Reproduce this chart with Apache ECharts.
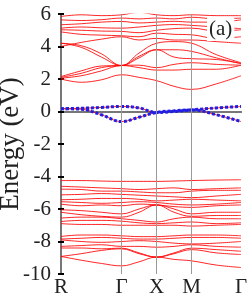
<!DOCTYPE html>
<html>
<head>
<meta charset="utf-8">
<script src="https://cdn.jsdelivr.net/npm/echarts@6/dist/echarts.min.js"></script>
<style>html,body{margin:0;padding:0;background:#fff}#c{width:249px;height:301px}</style>
</head>
<body>
<div id="c"></div>
<script>
// k-path positions (R, 1/3, 2/3, Γ, mid, X, mid, M, mid, Γ)
const kPoints = [0, 0.577, 1.155, 1.732, 2.232, 2.732, 3.232, 3.732, 4.439, 5.146];
const kTickValues = [0, 1.732, 2.732, 3.732, 5.146];
const kTickLabels = ['R', 'Γ', 'X', 'M', 'Γ'];
const yTicks = [6, 4, 2, 0, -2, -4, -6, -8, -10];

const conductionBands = [
  [2.0, 1.8, 1.95, 2.26, 2.1, 1.9, 1.55, 1.36, 1.7, 2.2],
  [2.05, 2.2, 2.5, 2.83, 2.7, 2.55, 2.55, 2.6, 2.6, 2.85],
  [2.1, 2.35, 2.7, 2.83, 2.85, 2.7, 2.9, 3.0, 2.9, 2.85],
  [2.15, 2.5, 2.8, 2.83, 3.3, 3.8, 3.35, 3.25, 3.2, 2.95],
  [4.2, 3.95, 3.35, 2.83, 3.4, 3.8, 3.8, 3.7, 3.3, 2.95],
  [4.2, 4.05, 3.55, 2.83, 3.6, 4.2, 4.3, 4.2, 3.5, 3.0],
  [4.0, 4.25, 4.45, 4.6, 4.4, 4.5, 4.4, 4.4, 4.3, 4.2],
  [4.9, 4.75, 4.7, 4.66, 4.6, 4.82, 4.75, 4.72, 4.5, 4.6],
  [5.03, 5.0, 4.95, 4.93, 4.85, 5.0, 5.1, 5.13, 4.95, 5.03],
  [5.13, 5.2, 5.15, 5.13, 5.2, 5.3, 5.35, 5.3, 5.2, 5.1],
  [5.34, 5.4, 5.5, 5.54, 5.45, 5.5, 5.55, 5.5, 5.5, 5.64],
  [5.64, 5.6, 5.65, 5.75, 5.7, 5.75, 5.7, 5.8, 5.7, 5.75],
  [5.85, 5.95, 5.9, 5.95, 6.1, 5.95, 5.9, 5.95, 5.9, 5.9]
];

const flatBands = [
  [0.17, 0.2, 0.25, 0.31, 0.22, -0.06, 0.0, 0.1, 0.22, 0.31],
  [0.17, 0.14, -0.2, -0.62, -0.35, -0.06, 0.04, 0.1, -0.2, -0.62]
];

const valenceBands = [
  [-4.25, -4.25, -4.28, -4.3, -4.3, -4.3, -4.28, -4.25, -4.22, -4.2],
  [-4.6, -4.65, -4.7, -4.75, -4.8, -4.75, -4.7, -4.8, -4.75, -4.7],
  [-4.78, -4.8, -4.9, -4.9, -4.95, -5.0, -5.0, -4.9, -4.85, -4.85],
  [-5.13, -5.1, -5.05, -5.1, -5.15, -5.2, -5.25, -5.3, -5.2, -5.1],
  [-5.43, -5.4, -5.35, -5.35, -5.4, -5.5, -5.45, -5.4, -5.45, -5.5],
  [-5.55, -5.6, -5.65, -5.6, -5.55, -5.6, -5.7, -5.75, -5.7, -5.6],
  [-5.7, -5.8, -5.75, -5.8, -5.7, -5.75, -5.85, -5.9, -5.8, -5.75],
  [-6.05, -6.1, -6.2, -6.3, -6.0, -5.75, -6.0, -6.3, -6.2, -6.2],
  [-6.2, -6.35, -6.45, -6.5, -6.2, -5.75, -6.2, -6.45, -6.4, -6.4],
  [-6.56, -6.5, -6.5, -6.6, -6.7, -6.8, -6.6, -6.5, -6.6, -6.6],
  [-6.77, -6.7, -6.7, -6.75, -6.85, -6.9, -6.85, -6.8, -6.9, -6.85],
  [-6.9, -6.95, -6.95, -7.0, -7.0, -7.0, -7.0, -7.05, -7.0, -6.95],
  [-7.69, -7.6, -7.6, -7.65, -7.7, -7.7, -7.65, -7.6, -7.6, -7.65],
  [-7.85, -7.8, -7.75, -7.8, -7.85, -7.85, -7.8, -7.75, -7.75, -7.8],
  [-7.9, -8.0, -8.05, -8.0, -7.95, -8.0, -8.1, -8.15, -8.1, -8.0],
  [-8.3, -8.25, -8.2, -8.3, -8.3, -8.35, -8.3, -8.2, -8.3, -8.35],
  [-8.4, -8.4, -8.45, -8.41, -8.7, -8.96, -8.7, -8.41, -8.5, -8.6],
  [-8.92, -8.75, -8.55, -8.45, -8.75, -8.96, -8.75, -8.5, -8.7, -8.8],
  [-8.92, -9.15, -9.35, -9.5, -9.25, -8.96, -9.1, -9.19, -9.45, -9.6]
];

const serif = "'Liberation Serif', 'DejaVu Serif', serif";
const toPts = b => b.map((e, i) => [kPoints[i], e]);
const redLine = b => ({
  type: 'line', data: toPts(b), smooth: 0.4, symbol: 'none', silent: true,
  lineStyle: { color: '#ff0000', width: 1, opacity: 0.85 }, z: 3
});

const series = [];
series.push({
  type: 'line', data: [], symbol: 'none', silent: true,
  markLine: {
    symbol: 'none', silent: true, label: { show: false },
    lineStyle: { color: '#9a9a9a', width: 1, type: 'solid' },
    data: kTickValues.slice(1, 4).map(v => ({ xAxis: v }))
  }, z: 2
});
conductionBands.forEach(b => series.push(redLine(b)));
valenceBands.forEach(b => series.push(redLine(b)));
flatBands.forEach(b => {
  series.push(redLine(b));
  series.push({
    type: 'line', data: toPts(b), smooth: 0.4, symbol: 'none', silent: true,
    lineStyle: { color: '#1f1fe6', width: 3, type: [3, 2] }, z: 4
  });
});

const chart = echarts.init(document.getElementById('c'), null, { renderer: 'canvas' });
chart.setOption({
  animation: false,
  backgroundColor: '#fff',
  title: {
    text: '(a)', left: 207, top: 18, padding: [1, 2],
    backgroundColor: '#fff',
    textStyle: { fontFamily: serif, fontSize: 21, fontWeight: 'normal', color: '#222' }
  },
  grid: { left: 61, right: 8, top: 14, bottom: 27, containLabel: false, outerBoundsMode: 'none' },
  xAxis: [{
    type: 'value', min: 0, max: kTickValues[kTickValues.length - 1],
    axisLine: { show: true, lineStyle: { color: '#666', width: 2 } },
    axisTick: { show: false },
    splitLine: { show: false },
    axisLabel: {
      customValues: kTickValues, showMinLabel: true, showMaxLabel: true,
      margin: 3, fontFamily: serif, fontSize: 21, color: '#222',
      formatter: v => { const i = kTickValues.findIndex(t => Math.abs(t - v) < 1e-6); return i >= 0 ? kTickLabels[i] : ''; }
    }
  }, {
    type: 'value', position: 'top', min: 0, max: kTickValues[kTickValues.length - 1],
    axisLine: { show: true, lineStyle: { color: '#777', width: 2 } },
    axisTick: { show: false }, axisLabel: { show: false }, splitLine: { show: false }
  }],
  yAxis: [{
    type: 'value', min: -10, max: 6, interval: 2,
    name: 'Energy (eV)', nameLocation: 'middle', nameGap: 37, nameMoveOverlap: false,
    nameTextStyle: { fontFamily: serif, fontSize: 27, color: '#222' },
    axisLine: { show: true, lineStyle: { color: '#555', width: 2 } },
    axisTick: { show: true, inside: true, length: 3, lineStyle: { color: '#000', width: 2 } },
    splitLine: { show: false },
    axisLabel: { margin: 10, fontFamily: serif, fontSize: 21, color: '#222',
      formatter: v => yTicks.includes(v) ? String(v) : '' }
  }, {
    type: 'value', position: 'right', min: -10, max: 6, interval: 2,
    axisLine: { show: true, lineStyle: { color: '#777', width: 2 } },
    axisTick: { show: true, inside: true, length: 3, lineStyle: { color: '#000', width: 2 } },
    axisLabel: { show: false }, splitLine: { show: false }
  }],
  series: series
});
</script>
</body>
</html>
